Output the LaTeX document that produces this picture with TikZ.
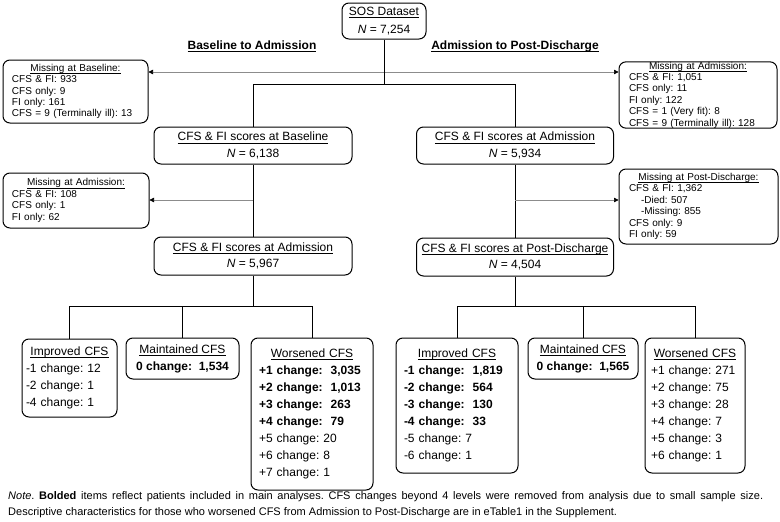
\documentclass[tikz,border=0pt]{standalone}
\usepackage{fontspec}
\setmainfont{Liberation Sans}
\usetikzlibrary{arrows.meta}
\frenchspacing
\newcommand{\ulx}[1]{\leavevmode\setbox0\hbox{#1}\rlap{\vrule height -1.7pt depth 2.3pt width \wd0}\box0}
\newcommand{\ttlc}[1]{\makebox[\hsize][c]{\ulx{#1}}}
\tikzset{
  box/.style={draw=black, line width=1pt, rounded corners=7pt, inner ysep=0pt},
  hdrbox/.style={box, align=center, inner xsep=2pt, font={\frenchspacing\fontsize{12}{16.5}\selectfont}},
  smallbox/.style={box, align=left, font={\frenchspacing\fontsize{10}{11.4}\selectfont}},
  listbox/.style={box, align=left, font={\frenchspacing\fontsize{12}{17}\selectfont}},
  conn/.style={draw=black, line width=0.9pt},
  arr/.style={draw=black!45, line width=0.6pt, -{Triangle[length=4.5pt,width=4.5pt,color=black]}},
  sect/.style={font={\fontsize{12}{14}\selectfont\bfseries}, inner sep=0pt},
}
\begin{document}
\begin{tikzpicture}[x=1pt,y=-1pt]
\useasboundingbox (0,0) rectangle (780,522);
% top
\node[hdrbox, minimum width=84pt, minimum height=36pt, font={\frenchspacing\fontsize{12}{18}\selectfont}] (sos) at (384,21) {\ulx{SOS Dataset}\\\textit{N} = 7,254};
\node[sect] (hL) at (252,46) {\ulx{Baseline to Admission}};
\node[sect] (hR) at (515,46) {\ulx{Admission to Post-Discharge}};
% missing boxes
\node[smallbox, minimum width=145pt, minimum height=63pt, text width=127pt, inner xsep=9pt] (missBL) at (75.5,91.5)
  {\ttlc{Missing at Baseline:}\\CFS \& FI: 933\\CFS only: 9\\FI only: 161\\CFS = 9 (Terminally ill): 13};
\node[smallbox, minimum width=158pt, minimum height=66pt, text width=138pt, inner xsep=10pt] (missAR) at (698,95)
  {\ttlc{Missing at Admission:}\\CFS \& FI: 1,051\\CFS only: 11\\FI only: 122\\CFS = 1 (Very fit): 8\\CFS = 9 (Terminally ill): 128};
\node[smallbox, minimum width=146pt, minimum height=55pt, text width=128pt, inner xsep=9pt] (missAL) at (76,200.5)
  {\ttlc{Missing at Admission:}\\CFS \& FI: 108\\CFS only: 1\\FI only: 62};
\node[smallbox, minimum width=159pt, minimum height=75pt, text width=139pt, inner xsep=10pt] (missPD) at (698.5,206.5)
  {\ttlc{Missing at Post-Discharge:}\\CFS \& FI: 1,362\\\hspace*{12pt}-Died: 507\\\hspace*{12pt}-Missing: 855\\CFS only: 9\\FI only: 59};
% score boxes
\node[hdrbox, minimum width=198pt, minimum height=37pt] (blBase) at (253,145.5) {\ulx{CFS \& FI scores at Baseline}\\\textit{N} = 6,138};
\node[hdrbox, minimum width=197pt, minimum height=37pt] (arAdm) at (515,145.5) {\ulx{CFS \& FI scores at Admission}\\\textit{N} = 5,934};
\node[hdrbox, minimum width=198pt, minimum height=38pt] (blAdm) at (253,256) {\ulx{CFS \& FI scores at Admission}\\\textit{N} = 5,967};
\node[hdrbox, minimum width=197pt, minimum height=38pt] (arPD) at (515,257) {\ulx{CFS \& FI scores at Post-Discharge}\\\textit{N} = 4,504};
% bottom left
\node[listbox, minimum width=95pt, minimum height=78pt, text width=87pt, inner xsep=4pt] (impL) at (69.5,378)
  {\ttlc{Improved CFS}\\-1 change: 12\\-2 change: 1\\-4 change: 1};
\node[listbox, align=center, minimum width=113pt, minimum height=41pt, inner xsep=2pt] (maintL) at (182.5,358.5)
  {\ulx{Maintained CFS}\\\textbf{0 change:\ \ 1,534}};
\node[listbox, minimum width=122pt, minimum height=152pt, text width=106pt, inner xsep=8pt] (worsL) at (312,414)
  {\ttlc{Worsened CFS}\\\textbf{+1 change:\ \ 3,035}\\\textbf{+2 change:\ \ 1,013}\\\textbf{+3 change:\ \ 263}\\\textbf{+4 change:\ \ 79}\\+5 change: 20\\+6 change: 8\\+7 change: 1};
% bottom right
\node[listbox, minimum width=122pt, minimum height=135pt, text width=106pt, inner xsep=8pt] (impR) at (457,405.5)
  {\ttlc{Improved CFS}\\\textbf{-1 change:\ \ 1,819}\\\textbf{-2 change:\ \ 564}\\\textbf{-3 change:\ \ 130}\\\textbf{-4 change:\ \ 33}\\-5 change: 7\\-6 change: 1};
\node[listbox, align=center, minimum width=110pt, minimum height=41pt, inner xsep=2pt] (maintR) at (583,358.5)
  {\ulx{Maintained CFS}\\\textbf{0 change:\ \ 1,565}};
\node[listbox, minimum width=100pt, minimum height=135pt, text width=88pt, inner xsep=6pt] (worsR) at (695,405.5)
  {\ttlc{Worsened CFS}\\+1 change: 271\\+2 change: 75\\+3 change: 28\\+4 change: 7\\+5 change: 3\\+6 change: 1};
% note
\node[anchor=west, align=left, inner sep=0pt, font={\frenchspacing\fontsize{11}{16}\selectfont}] (note) at (8,505)
  {\makebox[755pt][s]{\textit{Note}. \textbf{Bolded} items reflect patients included in main analyses. CFS changes beyond 4 levels were removed from analysis due to small sample size.}\\Descriptive characteristics for those who worsened CFS from Admission to Post-Discharge are in eTable1 in the Supplement.};
% junction coordinates
\coordinate (aTop) at (384,72);
\coordinate (jTop) at (384,84);
\coordinate (jL) at (253,84);
\coordinate (jR) at (515,84);
\coordinate (aL) at (253,200);
\coordinate (aR) at (515,200);
\coordinate (bL) at (253,306);
\coordinate (bR) at (515,306);
% connectors
\draw[arr] (aTop) -- (aTop -| missBL.east);
\draw[arr] (aTop) -- (aTop -| missAR.west);
\draw[conn] (sos) -- (jTop);
\draw[conn] (jL) -- (jR);
\draw[conn] (jL) -- (blBase);
\draw[conn] (jR) -- (arAdm);
\draw[conn] (blBase) -- (blAdm);
\draw[conn] (arAdm) -- (arPD);
\draw[arr] (aL) -- (aL -| missAL.east);
\draw[arr] (aR) -- (aR -| missPD.west);
\draw[conn] (blAdm) -- (bL);
\draw[conn] (bL -| impL) -- (bL -| worsL);
\draw[conn] (bL -| impL) -- (impL);
\draw[conn] (bL -| maintL) -- (maintL);
\draw[conn] (bL -| worsL) -- (worsL);
\draw[conn] (arPD) -- (bR);
\draw[conn] (bR -| impR) -- (bR -| worsR);
\draw[conn] (bR -| impR) -- (impR);
\draw[conn] (bR -| maintR) -- (maintR);
\draw[conn] (bR -| worsR) -- (worsR);
\end{tikzpicture}
\end{document}
